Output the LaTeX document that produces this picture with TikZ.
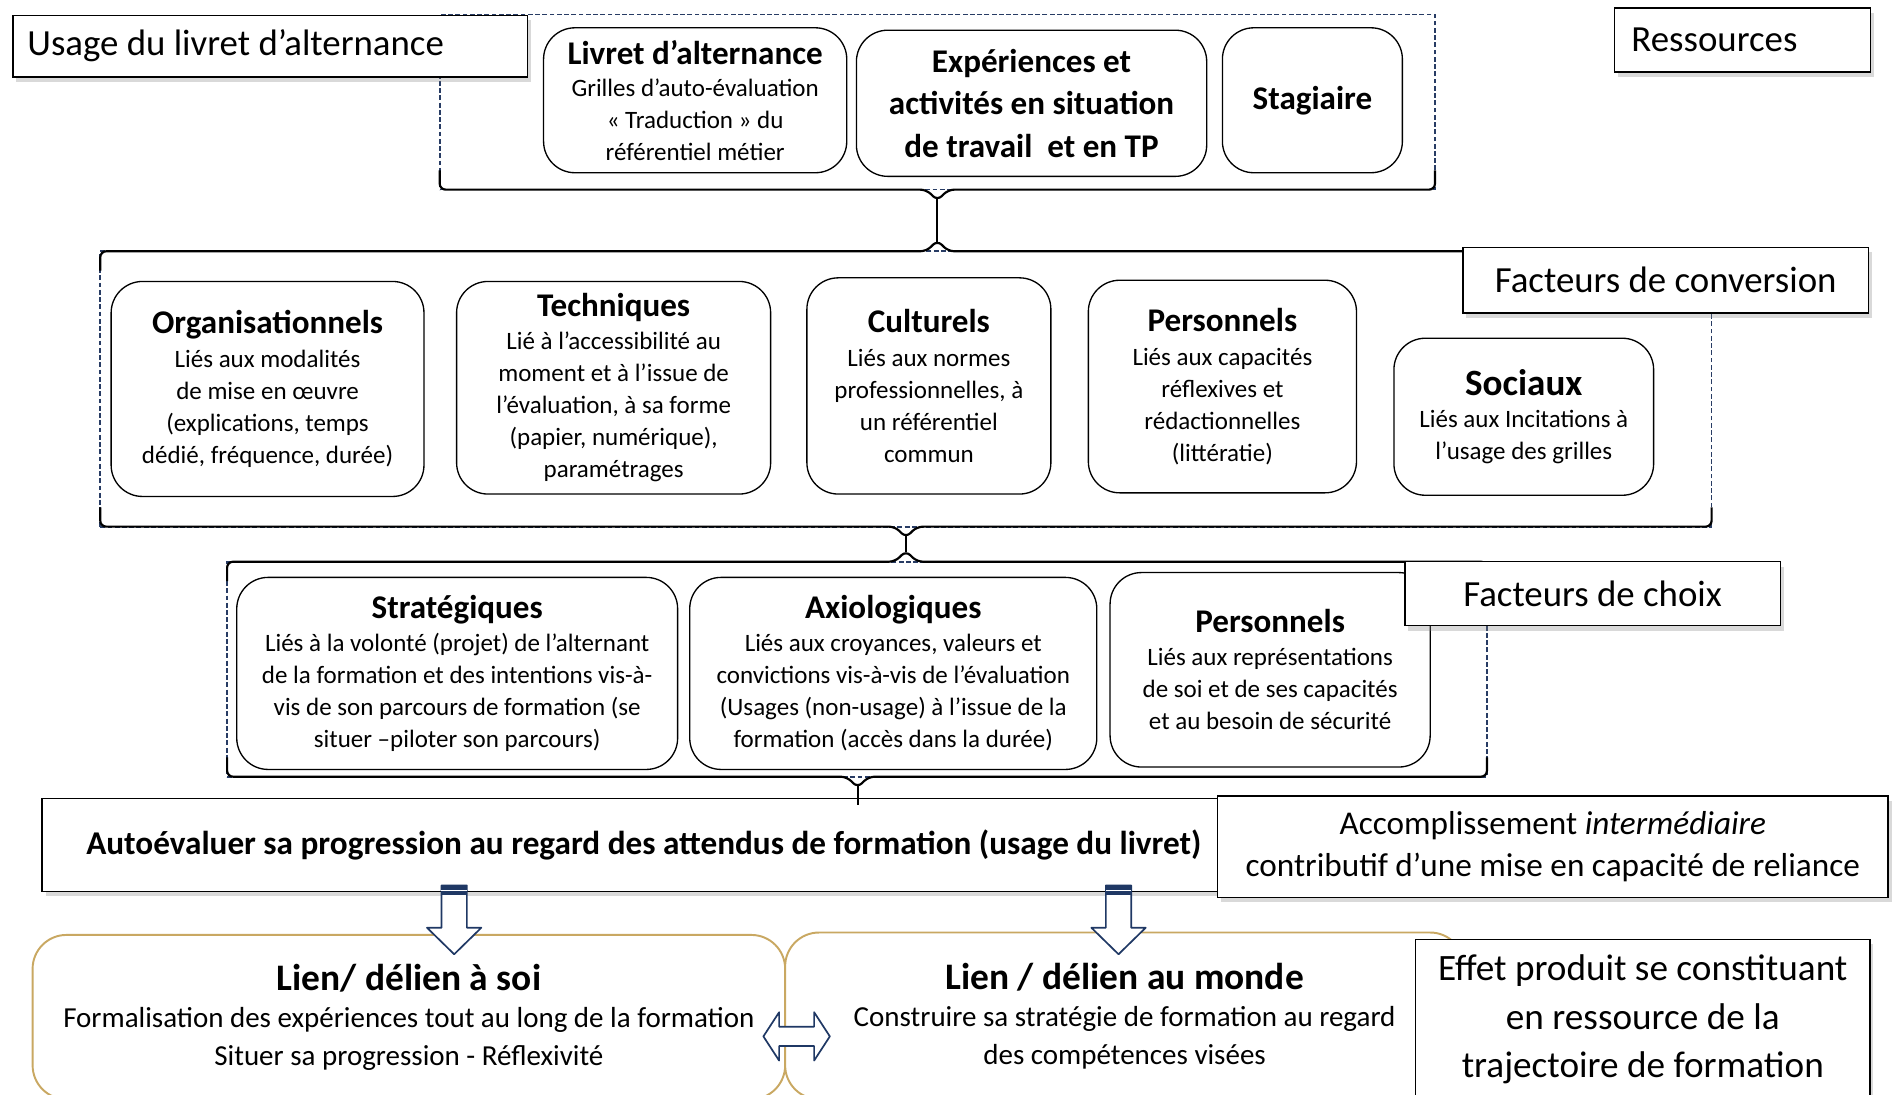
\documentclass[tikz,border=0pt]{standalone}
\usepackage{fontspec}
\setmainfont{Carlito}
\usetikzlibrary{shadows}

\definecolor{navy}{RGB}{40,60,100}
\definecolor{arrowblue}{RGB}{31,56,100}
\definecolor{gold}{RGB}{201,168,98}

\newcommand{\lblfont}{\fontsize{30.5}{36}\selectfont}
\newcommand{\titfont}{\fontsize{27.4}{30}\selectfont\bfseries}
\newcommand{\bodyfont}{\fontsize{20.7}{26.5}\selectfont}

\tikzset{
  label box/.style={draw, line width=1.3pt, fill=white, inner sep=0pt,
    drop shadow={shadow xshift=3pt, shadow yshift=-4pt, opacity=.3}},
  card/.style={draw, line width=1.1pt, rounded corners=26pt, fill=white,
    inner sep=0pt, align=center, font=\bodyfont},
  grp/.style={draw=navy, line width=1.4pt, dash pattern=on 4pt off 2pt, inner sep=0pt},
  brc/.style={line width=1.8pt, rounded corners=5pt},
  lien/.style={draw=gold, line width=1.6pt, rounded corners=28pt, fill=white,
    inner sep=0pt, align=center, font=\fontsize{24}{31}\selectfont},
  hollow/.style={draw=arrowblue, line width=1.4pt, fill=white, line join=round},
}

\begin{document}
\begin{tikzpicture}[x=1pt,y=-1pt]
  \useasboundingbox (0,0) rectangle (1568,906);

  % the three dashed groups and their braces
  \node[grp, minimum width=824, minimum height=145] (res) at (776,84.5) {};
  \node[grp, minimum width=1334, minimum height=228] (conv) at (750,322) {};
  \node[grp, minimum width=1043, minimum height=178] (choix) at (709.5,554) {};

  \foreach \xa/\xb/\yy/\xt/\dd in {364/1188/157/776/1, 83/1417/208/776/-1,
      83/1417/436/750/1, 188/1231/465/750/-1, 188/1231/643/710/1}
    \draw[brc] (\xa,\yy-16*\dd) -- (\xa,\yy) -- (\xt-9,\yy) -- (\xt,\yy+9*\dd)
      -- (\xt+9,\yy) -- (\xb,\yy) -- (\xb,\yy-16*\dd);

  \coordinate (tipA) at (776,165);
  \coordinate (tipB) at (776,200);
  \coordinate (tipC) at (750,444);
  \coordinate (tipD) at (750,457);
  \coordinate (tipE) at (710,651);

  % ressources
  \node[card, minimum width=251, minimum height=120] (livret) at (575.5,83)
    {{\titfont Livret d’alternance}\\Grilles d’auto-évaluation\\« Traduction » du\\référentiel métier};
  \node[card, font=\fontsize{27.4}{35}\selectfont\bfseries, minimum width=290, minimum height=121] (exper) at (854,85.5)
    {Expériences et\\activités en situation\\de travail\ \ et en TP};
  \node[card, font=\titfont, minimum width=149, minimum height=120] (stag) at (1086.5,83) {Stagiaire};

  % facteurs de conversion
  \node[card, minimum width=259, minimum height=178] (orga) at (221.5,322)
    {{\titfont Organisationnels}\\[1pt]Liés aux modalités\\de mise en œuvre\\(explications, temps\\dédié, fréquence, durée)};
  \node[card, minimum width=260, minimum height=176] (tech) at (508,321)
    {{\titfont Techniques}\\[1pt]Lié à l’accessibilité au\\moment et à l’issue de\\l’évaluation, à sa forme\\(papier, numérique),\\paramétrages};
  \node[card, minimum width=202, minimum height=179] (cult) at (769,319.5)
    {{\titfont Culturels}\\[1pt]Liés aux normes\\professionnelles, à\\un référentiel\\commun};
  \node[card, minimum width=222, minimum height=176] (perso) at (1012,320)
    {{\titfont Personnels}\\[1pt]Liés aux capacités\\réflexives et\\rédactionnelles\\(littératie)};
  \node[card, minimum width=215, minimum height=130] (soc) at (1261.5,345)
    {{\fontsize{30.7}{33}\selectfont\bfseries Sociaux}\\Liés aux Incitations à\\l’usage des grilles};

  % facteurs de choix
  \node[card, minimum width=365, minimum height=159] (strat) at (378.5,557.5)
    {{\titfont Stratégiques}\\[1pt]Liés à la volonté (projet) de l’alternant\\de la formation et des intentions vis-à-\\vis de son parcours de formation (se\\situer –piloter son parcours)};
  \node[card, minimum width=337, minimum height=159] (axio) at (739.5,557.5)
    {{\titfont Axiologiques}\\[1pt]Liés aux croyances, valeurs et\\convictions vis-à-vis de l’évaluation\\(Usages (non-usage) à l’issue de la\\formation (accès dans la durée)};
  \node[card, minimum width=265, minimum height=161] (persch) at (1051.5,554.5)
    {{\titfont Personnels}\\[1pt]Liés aux représentations\\de soi et de ses capacités\\et au besoin de sécurité};

  % labels
  \node[label box, anchor=north west, minimum height=51, inner xsep=12pt, text width=402,
    align=flush left, font=\lblfont] (usage) at (10,12) {Usage du livret d’alternance};
  \node[label box, anchor=north west, minimum height=53, inner xsep=14pt, text width=184,
    align=flush left, font=\lblfont] (ressources) at (1336,6) {Ressources};
  \node[label box, minimum width=336, minimum height=54, font=\lblfont] (factconv) at (1379,232)
    {Facteurs de conversion};
  \node[label box, minimum width=311, minimum height=53, font=\lblfont] (factchoix) at (1318.5,491.5)
    {Facteurs de choix};

  \draw[line width=1.8pt] (tipA) -- (tipB);
  \draw[line width=1.8pt] (tipC) -- (tipD);

  % autoevaluation
  \node[label box, minimum width=996, minimum height=77, font=\fontsize{27.5}{32}\selectfont\bfseries]
    (autoeval) at (533,699.5) {Autoévaluer sa progression au regard des attendus de formation (usage du livret)};
  \draw[line width=1.8pt] (tipE) -- ([yshift=-6pt]tipE |- autoeval.north);
  \node[label box, minimum width=555, minimum height=84, align=center, font=\fontsize{27.5}{35}\selectfont]
    (accomp) at (1285.5,701) {Accomplissement \textit{intermédiaire}\\contributif d’une mise en capacité de reliance};

  % liens
  \node[lien, minimum width=623, minimum height=136] (soi) at (338.5,842)
    {{\fontsize{31}{36}\selectfont\bfseries Lien/ délien à soi}\\Formalisation des expériences tout au long de la formation\\Situer sa progression - Réflexivité};
  \node[lien, minimum width=562, minimum height=138] (monde) at (931,841)
    {{\fontsize{31}{36}\selectfont\bfseries Lien / délien au monde}\\Construire sa stratégie de formation au regard\\des compétences visées};
  \node[label box, anchor=north, minimum width=376, minimum height=150] (effet) at (1360,777) {};
  \node[align=center, font=\fontsize{30.8}{40}\selectfont] (effettxt) at (1360,844)
    {Effet produit se constituant\\en ressource de la\\trajectoire de formation};

  % block arrows
  \foreach \ax in {376,926} {
    \draw[hollow] (\ax-10.5,733) -- (\ax-10.5,768) -- (\ax-22.5,768) -- (\ax,790)
      -- (\ax+22.5,768) -- (\ax+10.5,768) -- (\ax+10.5,733) -- cycle;
    \fill[arrowblue] (\ax-10.5,733) rectangle (\ax+10.5,741);
    \draw[white, line width=0.8pt] (\ax-10.5,737) -- (\ax+10.5,737);
  }
  \draw[hollow] (632,858) -- (645,838) -- (645,850) -- (674,850) -- (674,838) -- (687,858)
    -- (674,878) -- (674,866) -- (645,866) -- (645,878) -- cycle;
\end{tikzpicture}
\end{document}
